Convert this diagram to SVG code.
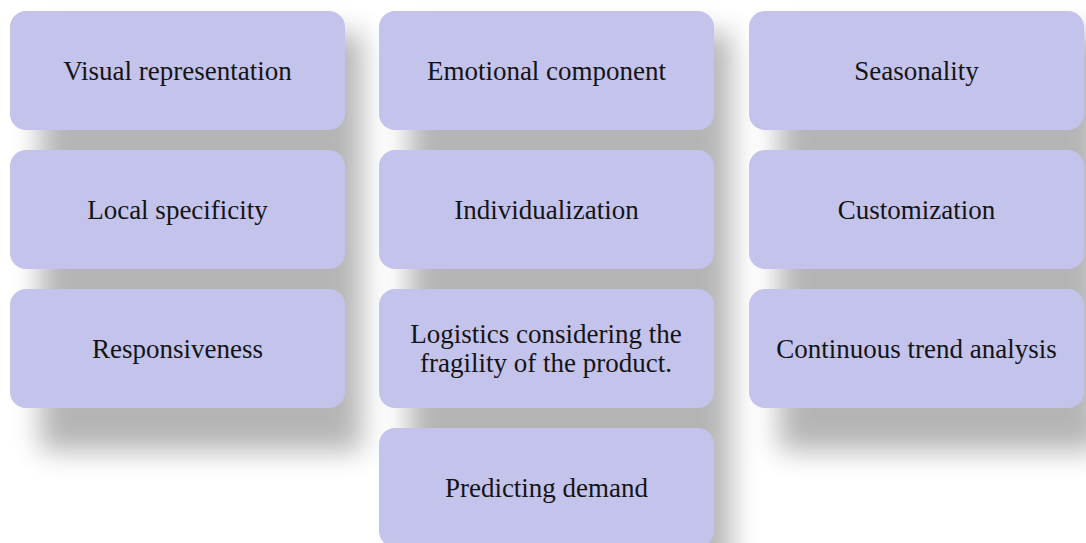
<svg xmlns="http://www.w3.org/2000/svg" width="1086" height="543" viewBox="0 0 1086 543">
  <style>
    .box { fill: #c4c3ec; }
    .label { font-family: "Liberation Serif", "Times New Roman", serif; font-size: 27px; fill: #141414; text-anchor: middle; }
    .shade { fill: #000; }
  </style>
  <defs>
    <filter id="soft" x="-20%" y="-20%" width="140%" height="140%">
      <feGaussianBlur stdDeviation="14"/>
    </filter>
  </defs>
  <rect width="1086" height="543" fill="#ffffff"/>

  <!-- drop shadows, drawn under every card -->
  <g id="shadows" filter="url(#soft)" opacity="0.29">
    <rect class="shade" x="40" y="33" width="322" height="140"/>
    <rect class="shade" x="409" y="33" width="322" height="140"/>
    <rect class="shade" x="779" y="33" width="322" height="140"/>
    <rect class="shade" x="40" y="172" width="322" height="140"/>
    <rect class="shade" x="409" y="172" width="322" height="140"/>
    <rect class="shade" x="779" y="172" width="322" height="140"/>
    <rect class="shade" x="40" y="311" width="322" height="140"/>
    <rect class="shade" x="409" y="311" width="322" height="140"/>
    <rect class="shade" x="779" y="311" width="322" height="140"/>
    <rect class="shade" x="409" y="450" width="322" height="140"/>
  </g>

  <!-- no connectors in this chart -->
  <g id="connectors"/>

  <g id="visual-representation">
    <rect class="box" x="10" y="11" width="335" height="119" rx="16"/>
    <text class="label" x="177.5" y="80">Visual representation</text>
  </g>
  <g id="emotional-component">
    <rect class="box" x="379" y="11" width="335" height="119" rx="16"/>
    <text class="label" x="546.5" y="80">Emotional component</text>
  </g>
  <g id="seasonality">
    <rect class="box" x="749" y="11" width="335" height="119" rx="16"/>
    <text class="label" x="916.5" y="80">Seasonality</text>
  </g>

  <g id="local-specificity">
    <rect class="box" x="10" y="150" width="335" height="119" rx="16"/>
    <text class="label" x="177.5" y="219">Local specificity</text>
  </g>
  <g id="individualization">
    <rect class="box" x="379" y="150" width="335" height="119" rx="16"/>
    <text class="label" x="546.5" y="219">Individualization</text>
  </g>
  <g id="customization">
    <rect class="box" x="749" y="150" width="335" height="119" rx="16"/>
    <text class="label" x="916.5" y="219">Customization</text>
  </g>

  <g id="responsiveness">
    <rect class="box" x="10" y="289" width="335" height="119" rx="16"/>
    <text class="label" x="177.5" y="358">Responsiveness</text>
  </g>
  <g id="logistics">
    <rect class="box" x="379" y="289" width="335" height="119" rx="16"/>
    <text class="label" x="546" y="343">Logistics considering the</text>
    <text class="label" x="546" y="372">fragility of the product.</text>
  </g>
  <g id="trend-analysis">
    <rect class="box" x="749" y="289" width="335" height="119" rx="16"/>
    <text class="label" x="916.5" y="358">Continuous trend analysis</text>
  </g>

  <g id="predicting-demand">
    <rect class="box" x="379" y="428" width="335" height="119" rx="16"/>
    <text class="label" x="546.5" y="497">Predicting demand</text>
  </g>
</svg>
